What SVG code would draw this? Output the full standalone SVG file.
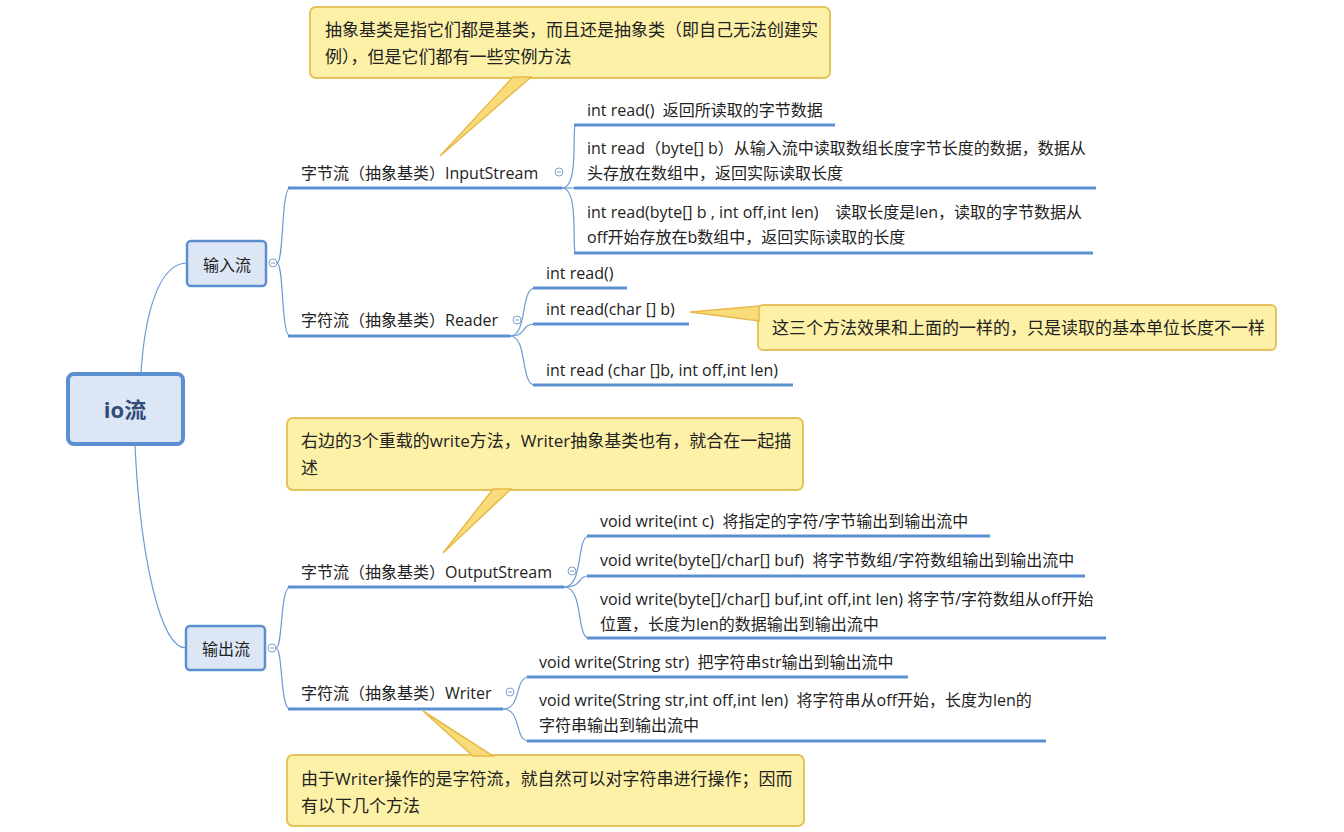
<svg xmlns="http://www.w3.org/2000/svg" width="1344" height="832" viewBox="0 0 1344 832">
<style>
text{font-family:"Open Sans","Noto Sans CJK SC",sans-serif;font-size:16px;fill:#222}
.call{font-size:17px}
.ul{stroke:#5b8fd0;stroke-width:3;fill:none}
.cn{stroke:#6d9bd6;stroke-width:1.2;fill:none}
.box{fill:#dce6f4;stroke:#5b8fd0;stroke-width:2.5}
.cbox{fill:#fdf1a8;stroke:#e6c25a;stroke-width:2}
.ptr{fill:#f8dc7a;stroke:#e8b94a;stroke-width:1.5}
.tog{fill:#fff;stroke:#7fa0cc;stroke-width:1}
.tm{stroke:#7fa0cc;stroke-width:1}
</style>
<rect width="1344" height="832" fill="#fff"/>
<g id="connectors">
<path class="cn" d="M141 373 C145 310 160 263 187 263"/>
<path class="cn" d="M135 445 C140 555 160 648 186 648"/>
<path class="cn" d="M277 263 C284 263 281 188 290 188"/>
<path class="cn" d="M277 263 C284 263 281 336 290 336"/>
<path class="cn" d="M276 648 C283 648 280 587 290 587"/>
<path class="cn" d="M276 648 C283 648 280 709 290 709"/>
<path class="cn" d="M562 188 C580 188 571 125 576 125"/>
<path class="cn" d="M562 188 H576"/>
<path class="cn" d="M562 188 C580 188 571 253 576 253"/>
<path class="cn" d="M510 336 C528 336 520 288 535 288"/>
<path class="cn" d="M510 336 C528 336 520 324 535 324"/>
<path class="cn" d="M510 336 C528 336 520 385 535 385"/>
<path class="cn" d="M564 587 C584 587 576 536 589 536"/>
<path class="cn" d="M564 587 C584 587 576 576 589 576"/>
<path class="cn" d="M564 587 C584 587 576 638 589 638"/>
<path class="cn" d="M503 709 C522 709 514 677 529 677"/>
<path class="cn" d="M503 709 C522 709 514 741 529 741"/>
</g>
<g id="root">
<rect x="68" y="374" width="115" height="70" rx="6" fill="#dce6f4" stroke="#5b8fd0" stroke-width="4"/>
<text x="125" y="418" text-anchor="middle" style="font-size:22px;font-weight:bold;fill:#2f4d78">io流</text>
</g>
<g id="input">
<rect class="box" x="187" y="241" width="79" height="45" rx="4"/>
<text x="227" y="271" text-anchor="middle">输入流</text>
<circle class="tog" cx="273" cy="263" r="4"/><line class="tm" x1="271" y1="263" x2="275" y2="263"/>
</g>
<g id="output">
<rect class="box" x="186" y="626" width="79" height="44" rx="4"/>
<text x="226" y="655" text-anchor="middle">输出流</text>
<circle class="tog" cx="272" cy="648" r="4"/><line class="tm" x1="270" y1="648" x2="274" y2="648"/>
</g>
<g id="inputstream">
<text x="301" y="179">字节流（抽象基类）InputStream</text>
<line class="ul" x1="288" y1="188" x2="562" y2="188"/>
<circle class="tog" cx="559" cy="172" r="4"/><line class="tm" x1="557" y1="172" x2="561" y2="172"/>
</g>
<g id="is1"><text x="587" y="116" xml:space="preserve">int read()  返回所读取的字节数据</text><line class="ul" x1="574" y1="125" x2="835" y2="125"/></g>
<g id="is2"><text x="587" y="154">int read（byte[] b）从输入流中读取数组长度字节长度的数据，数据从</text><text x="587" y="179">头存放在数组中，返回实际读取长度</text><line class="ul" x1="574" y1="188" x2="1096" y2="188"/></g>
<g id="is3"><text x="587" y="218" xml:space="preserve">int read(byte[] b , int off,int len)    读取长度是len，读取的字节数据从</text><text x="587" y="243">off开始存放在b数组中，返回实际读取的长度</text><line class="ul" x1="574" y1="253" x2="1093" y2="253"/></g>
<g id="reader">
<text x="301" y="326">字符流（抽象基类）Reader</text>
<line class="ul" x1="288" y1="336" x2="510" y2="336"/>
<circle class="tog" cx="517" cy="320" r="4"/><line class="tm" x1="515" y1="320" x2="519" y2="320"/>
</g>
<g id="r1"><text x="546" y="279">int read()</text><line class="ul" x1="533" y1="288" x2="627" y2="288"/></g>
<g id="r2"><text x="546" y="315">int read(char [] b)</text><line class="ul" x1="533" y1="324" x2="689" y2="324"/></g>
<g id="r3"><text x="546" y="376">int read (char []b, int off,int len)</text><line class="ul" x1="533" y1="385" x2="793" y2="385"/></g>
<g id="outputstream">
<text x="301" y="578">字节流（抽象基类）OutputStream</text>
<line class="ul" x1="288" y1="587" x2="564" y2="587"/>
<circle class="tog" cx="572" cy="571" r="4"/><line class="tm" x1="570" y1="571" x2="574" y2="571"/>
</g>
<g id="os1"><text x="600" y="527" xml:space="preserve">void write(int c)  将指定的字符/字节输出到输出流中</text><line class="ul" x1="587" y1="536" x2="990" y2="536"/></g>
<g id="os2"><text x="600" y="566" xml:space="preserve">void write(byte[]/char[] buf)  将字节数组/字符数组输出到输出流中</text><line class="ul" x1="587" y1="576" x2="1085" y2="576"/></g>
<g id="os3"><text x="600" y="605">void write(byte[]/char[] buf,int off,int len) 将字节/字符数组从off开始</text><text x="600" y="630">位置，长度为len的数据输出到输出流中</text><line class="ul" x1="587" y1="638" x2="1106" y2="638"/></g>
<g id="writer">
<text x="301" y="699">字符流（抽象基类）Writer</text>
<line class="ul" x1="288" y1="709" x2="503" y2="709"/>
<circle class="tog" cx="510" cy="692" r="4"/><line class="tm" x1="508" y1="692" x2="512" y2="692"/>
</g>
<g id="w1"><text x="539" y="668" xml:space="preserve">void write(String str)  把字符串str输出到输出流中</text><line class="ul" x1="527" y1="677" x2="908" y2="677"/></g>
<g id="w2"><text x="539" y="706" xml:space="preserve">void write(String str,int off,int len)  将字符串从off开始，长度为len的</text><text x="539" y="731">字符串输出到输出流中</text><line class="ul" x1="527" y1="741" x2="1046" y2="741"/></g>
<g id="callout1">
<rect class="cbox" x="310" y="7" width="520" height="71" rx="6"/>
<polygon class="ptr" points="440,156 513,77 531,77"/>
<text class="call" x="325" y="36">抽象基类是指它们都是基类，而且还是抽象类（即自己无法创建实</text>
<text class="call" x="325" y="63">例），但是它们都有一些实例方法</text>
</g>
<g id="callout2">
<rect class="cbox" x="758" y="305" width="518" height="45" rx="5"/>
<polygon class="ptr" points="690,312 759,306 759,321"/>
<text class="call" x="772" y="334">这三个方法效果和上面的一样的，只是读取的基本单位长度不一样</text>
</g>
<g id="callout3">
<rect class="cbox" x="287" y="418" width="516" height="72" rx="6"/>
<polygon class="ptr" points="443,553 493,489 511,489"/>
<text class="call" x="301" y="447">右边的3个重载的write方法，Writer抽象基类也有，就合在一起描</text>
<text class="call" x="301" y="474">述</text>
</g>
<g id="callout4">
<rect class="cbox" x="287" y="755" width="517" height="71" rx="6"/>
<polygon class="ptr" points="423,711 473,756 493,756"/>
<text class="call" x="301" y="785">由于Writer操作的是字符流，就自然可以对字符串进行操作；因而</text>
<text class="call" x="301" y="812">有以下几个方法</text>
</g>
</svg>
